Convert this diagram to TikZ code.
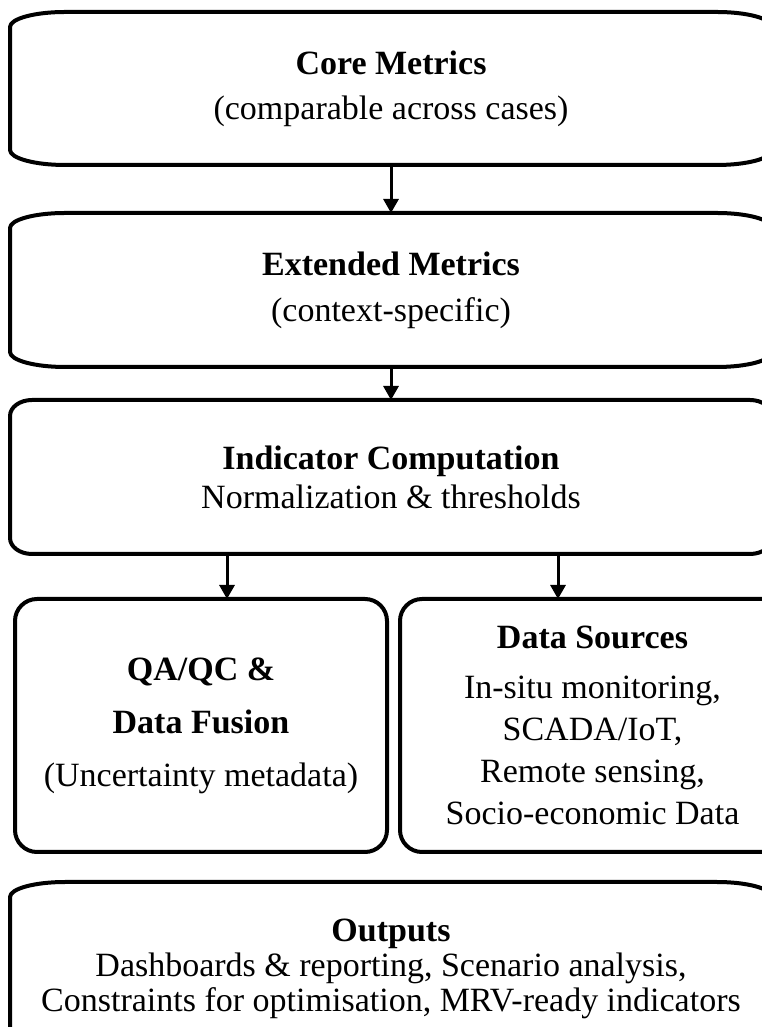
\documentclass[tikz,border=0pt]{standalone}
\usepackage{fontspec}
\setmainfont{Liberation Serif}
\usepackage{tikz}
\usetikzlibrary{arrows.meta}
\usetikzlibrary{positioning}

\tikzset{
  boxtext/.style={inner sep=0pt,outer sep=0pt,align=center,font=\fontsize{34}{40}\selectfont},
  boxline/.style={line width=4pt,color=black},
  flow/.style={->,line width=3pt,color=black}
}
% frame with flattened corners round a node: #1 node, #2 x radius, #3 y radius
\newcommand{\ovalframe}[3]{%
  \draw[boxline] ([xshift=#2]#1.north west) -- ([xshift=-#2]#1.north east)
    arc[start angle=90,end angle=0,x radius=#2,y radius=#3]
    -- ([yshift=#3]#1.south east)
    arc[start angle=0,end angle=-90,x radius=#2,y radius=#3]
    -- ([xshift=#2]#1.south west)
    arc[start angle=270,end angle=180,x radius=#2,y radius=#3]
    -- ([yshift=-#3]#1.north west)
    arc[start angle=180,end angle=90,x radius=#2,y radius=#3] -- cycle;}

\begin{document}
\begin{tikzpicture}[x=1pt,y=1pt,line cap=round,line join=round,>={Triangle[width=15pt,length=14pt]}]
        \useasboundingbox (0,0) rectangle (761,1027);
        \node[boxtext,minimum width=762pt,minimum height=153pt] (core) at (391,938.5)
          {\textbf{Core Metrics}\\[5pt](comparable across cases)};
        \node[boxtext,minimum width=762pt,minimum height=154pt] (ext) at (391,737)
          {\textbf{Extended Metrics}\\[6pt](context-specific)};
        \node[boxtext,minimum width=762pt,minimum height=154pt] (ind) at (391,550)
          {\textbf{Indicator Computation}\\[-1pt]Normalization \& thresholds};
        \node[boxtext,minimum width=372pt,minimum height=253pt] (qa) at (201,301.5)
          {\textbf{QA/QC \&}\\[13pt]\textbf{Data Fusion}\\[13pt](Uncertainty metadata)};
        \node[boxtext,font=\fontsize{34}{42}\selectfont,minimum width=385pt,minimum height=253pt] (src) at (592.5,301.5)
          {\textbf{Data Sources}\\[8pt]In-situ monitoring,\\SCADA/IoT,\\Remote sensing,\\Socio-economic Data};
        \node[boxtext,font=\fontsize{34}{35}\selectfont,minimum width=762pt,minimum height=173pt] (out) at (391,58.5)
          {\textbf{Outputs}\\Dashboards \& reporting, Scenario analysis,\\Constraints for optimisation, MRV-ready indicators};
        \ovalframe{core}{55pt}{15pt}
        \ovalframe{ext}{55pt}{15pt}
        \ovalframe{ind}{22pt}{16pt}
        \ovalframe{qa}{22pt}{22pt}
        \ovalframe{src}{22pt}{22pt}
        \ovalframe{out}{55pt}{15pt}
        \draw[flow] (core) -- (ext);
        \draw[flow] (ext) -- (ind);
        \draw[flow] ([xshift=-164pt]ind.south) -- ([xshift=26pt]qa.north);
        \draw[flow] ([xshift=167pt]ind.south) -- ([xshift=-34.5pt]src.north);
      \end{tikzpicture}
\end{document}
